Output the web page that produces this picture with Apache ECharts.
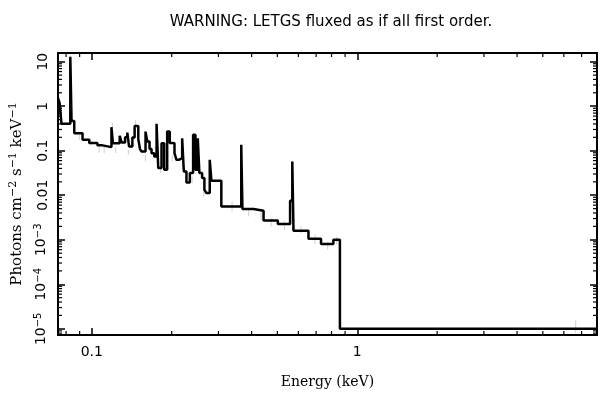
<!DOCTYPE html>
<html>
<head>
<meta charset="utf-8">
<script src="https://cdn.jsdelivr.net/npm/echarts@6/dist/echarts.min.js"></script>
<style>
    html, body { margin: 0; padding: 0; background: #fff; }
    #chart { width: 609px; height: 398px; }
</style>
</head>
<body>
<div id="chart"></div>
<script>
// bin left edges (keV) and fluxed values (photons cm^-2 s^-1 keV^-1)
var binEdges = [0.0746, 0.0756, 0.0769, 0.0830, 0.0839, 0.0859, 0.0923, 0.0978, 0.1050, 0.1097,
    0.1186, 0.1201, 0.1274, 0.1296, 0.1335, 0.1361, 0.1382, 0.1422, 0.1450, 0.1497,
    0.1519, 0.1540, 0.1594, 0.1618, 0.1650, 0.1679, 0.1719, 0.1754, 0.1780, 0.1831,
    0.1874, 0.1923, 0.1966, 0.2009, 0.2049, 0.2084, 0.2128, 0.2190, 0.2222, 0.2273,
    0.2341, 0.2408, 0.2457, 0.2508, 0.2543, 0.2604, 0.2656, 0.2702, 0.2782, 0.2822,
    0.3076, 0.3656, 0.3694, 0.4069, 0.4437, 0.5021, 0.5585, 0.5692, 0.5752, 0.655,
    0.7303, 0.8128, 0.8603]
var binFlux = [1.51, 1.2, 0.401, 12.9, 0.468, 0.248, 0.1755, 0.150, 0.132, 0.1205,
    0.338, 0.1466, 0.217, 0.153, 0.202, 0.256, 0.124, 0.198, 0.361, 0.182,
    0.109, 0.096, 0.269, 0.161, 0.109, 0.0883, 0.0741, 0.401, 0.0407, 0.148,
    0.0373, 0.269, 0.15, 0.148, 0.088, 0.0625, 0.0682, 0.191, 0.0342, 0.0194,
    0.0315, 0.228, 0.0373, 0.191, 0.0315, 0.0243, 0.0133, 0.0112, 0.0625, 0.0211,
    0.00561, 0.1356, 0.00491, 0.00449, 0.00272, 0.00226, 0.00753, 0.0573, 0.0016, 0.00106,
    0.000805, 0.001, 1e-5]
var lastEdge = 8

// faint grey error bars: energy, low, high
var errEnergy = [0.0897, 0.0991, 0.1066, 0.1113, 0.1196, 0.1230, 0.1373, 0.1463, 0.1594, 0.1816,
    0.2009, 0.2388, 0.2641, 0.3375, 0.390, 0.4346, 0.4741, 0.5321, 0.6142, 0.6934,
    0.7740, 0.8367, 6.65]
var errLow = [0.175, 0.136, 0.0897, 0.0883, 0.326, 0.0883, 0.081, 0.381, 0.0573, 0.0315,
    0.0573, 0.0188, 0.0094, 0.00434, 0.00335, 0.00282, 0.0020, 0.00168, 0.00142, 0.00078,
    0.0006, 0.00078, 8.1e-6]
var errHigh = [0.230, 0.194, 0.122, 0.124, 0.423, 0.124, 0.105, 0.493, 0.081, 0.0443,
    0.081, 0.0264, 0.0157, 0.00727, 0.00516, 0.00473, 0.00308, 0.00259, 0.0020, 0.0013,
    0.00092, 0.00119, 1.56e-5]

var xRange = [0.0746, 8]
var yRange = [7.26e-6, 15.67]
var xMinorTicks = [0.08, 0.09, 0.2, 0.3, 0.4, 0.5, 0.6, 0.7, 0.8, 0.9, 2, 3, 4, 5, 6, 7]
var yMinorTicks = []
;[-6, -5, -4, -3, -2, -1, 0, 1].forEach(function (p) {
    for (var m = 2; m <= 9; m++) yMinorTicks.push(m * Math.pow(10, p))
})

var stepData = binEdges.map(function (e, i) { return [e, binFlux[i]] })
stepData.push([lastEdge, binFlux[binFlux.length - 1]])
var errData = errEnergy.map(function (e, i) { return [e, errLow[i], errHigh[i]] })

var sup = { fontFamily: 'DejaVu Sans', fontSize: 10, verticalAlign: 'bottom', padding: [0, 0, 7, 0] }

function isDecade(v) {
    var l = Math.log10(v)
    return Math.abs(l - Math.round(l)) < 1e-6
}
function yLabel(v) {
    if (!isDecade(v)) return ''
    var p = Math.round(Math.log10(v))
    if (p >= 1) return '10'
    if (p === 0) return '1'
    if (p === -1) return '0.1'
    if (p === -2) return '0.01'
    return '10{s|−' + (-p) + '}'
}
function xLabel(v) {
    if (!isDecade(v)) return ''
    return v >= 1 ? String(Math.round(v)) : String(+v.toPrecision(1))
}

var chart = echarts.init(document.getElementById('chart'))
var axisLine = { show: true, lineStyle: { color: '#000', width: 2 } }
var majorTick = { show: true, inside: true, length: 7, lineStyle: { color: '#000', width: 1.5 } }

// minor log ticks drawn on both sides of the frame
function minorTicks(dir) {
    return function (params, api) {
        var cs = params.coordSys
        var v = api.value(dir === 'x' ? 0 : 1)
        var lines = []
        if (dir === 'x') {
            var px = api.coord([v, 1])[0]
            lines.push([px, cs.y + cs.height, px, cs.y + cs.height - 4])
            lines.push([px, cs.y, px, cs.y + 4])
        } else {
            var py = api.coord([1, v])[1]
            if (py < cs.y || py > cs.y + cs.height) return
            lines.push([cs.x, py, cs.x + 4, py])
            lines.push([cs.x + cs.width, py, cs.x + cs.width - 4, py])
        }
        return {
            type: 'group',
            children: lines.map(function (l) {
                return { type: 'line', shape: { x1: l[0], y1: l[1], x2: l[2], y2: l[3] },
                    style: { stroke: '#000', lineWidth: 1.2 } }
            })
        }
    }
}

function errorBar(params, api) {
    var lo = api.coord([api.value(0), api.value(1)])
    var hi = api.coord([api.value(0), api.value(2)])
    return { type: 'line', shape: { x1: lo[0], y1: lo[1], x2: hi[0], y2: hi[1] },
        style: { stroke: '#cfcfcf', lineWidth: 1 } }
}

chart.setOption({
    animation: false,
    title: {
        text: 'WARNING: LETGS fluxed as if all first order.',
        left: 326, top: 10, textAlign: 'center',
        textStyle: { fontFamily: 'DejaVu Sans', fontSize: 15, fontWeight: 'normal', color: '#000' }
    },
    grid: { left: 56, right: 12, top: 53, height: 282 },
    xAxis: [{
        type: 'log', min: xRange[0], max: xRange[1], logBase: 10,
        axisLine: axisLine, axisTick: majorTick, splitLine: { show: false },
        axisLabel: { formatter: xLabel, margin: 10, color: '#000', fontFamily: 'DejaVu Sans', fontSize: 14,
            showMinLabel: false, showMaxLabel: false },
        name: 'Energy (keV)', nameLocation: 'middle', nameGap: 40,
        nameTextStyle: { fontFamily: 'DejaVu Serif', fontSize: 14, color: '#000' }
    }, {
        type: 'log', min: xRange[0], max: xRange[1], logBase: 10, position: 'top',
        axisLine: axisLine, axisTick: majorTick, axisLabel: { show: false }, splitLine: { show: false }
    }],
    yAxis: [{
        type: 'log', min: yRange[0], max: yRange[1], logBase: 10,
        axisLine: axisLine, axisTick: majorTick, splitLine: { show: false },
        axisLabel: { formatter: yLabel, rotate: 90, margin: 8, color: '#000', fontFamily: 'DejaVu Sans', fontSize: 14,
            showMinLabel: false, showMaxLabel: false, rich: { s: sup } },
        name: 'Photons cm{s|−2} s{s|−1} keV{s|−1}', nameLocation: 'middle', nameGap: 32,
        nameTextStyle: { fontFamily: 'DejaVu Serif', fontSize: 15, color: '#000',
            rich: { s: { fontFamily: 'DejaVu Serif', fontSize: 11, verticalAlign: 'bottom', padding: [0, 0, 7, 0] } } }
    }, {
        type: 'log', min: yRange[0], max: yRange[1], logBase: 10, position: 'right',
        axisLine: axisLine, axisTick: majorTick, axisLabel: { show: false }, splitLine: { show: false }
    }],
    series: [{
        type: 'custom', renderItem: minorTicks('x'), silent: true,
        data: xMinorTicks.map(function (v) { return [v, 1] })
    }, {
        type: 'custom', renderItem: minorTicks('y'), silent: true,
        data: yMinorTicks.map(function (v) { return [1, v] })
    }, {
        type: 'custom', renderItem: errorBar, silent: true, data: errData
    }, {
        name: 'flux', type: 'line', step: 'end', data: stepData,
        symbol: 'none', lineStyle: { color: '#000', width: 2.5 }
    }]
})
</script>
</body>
</html>
